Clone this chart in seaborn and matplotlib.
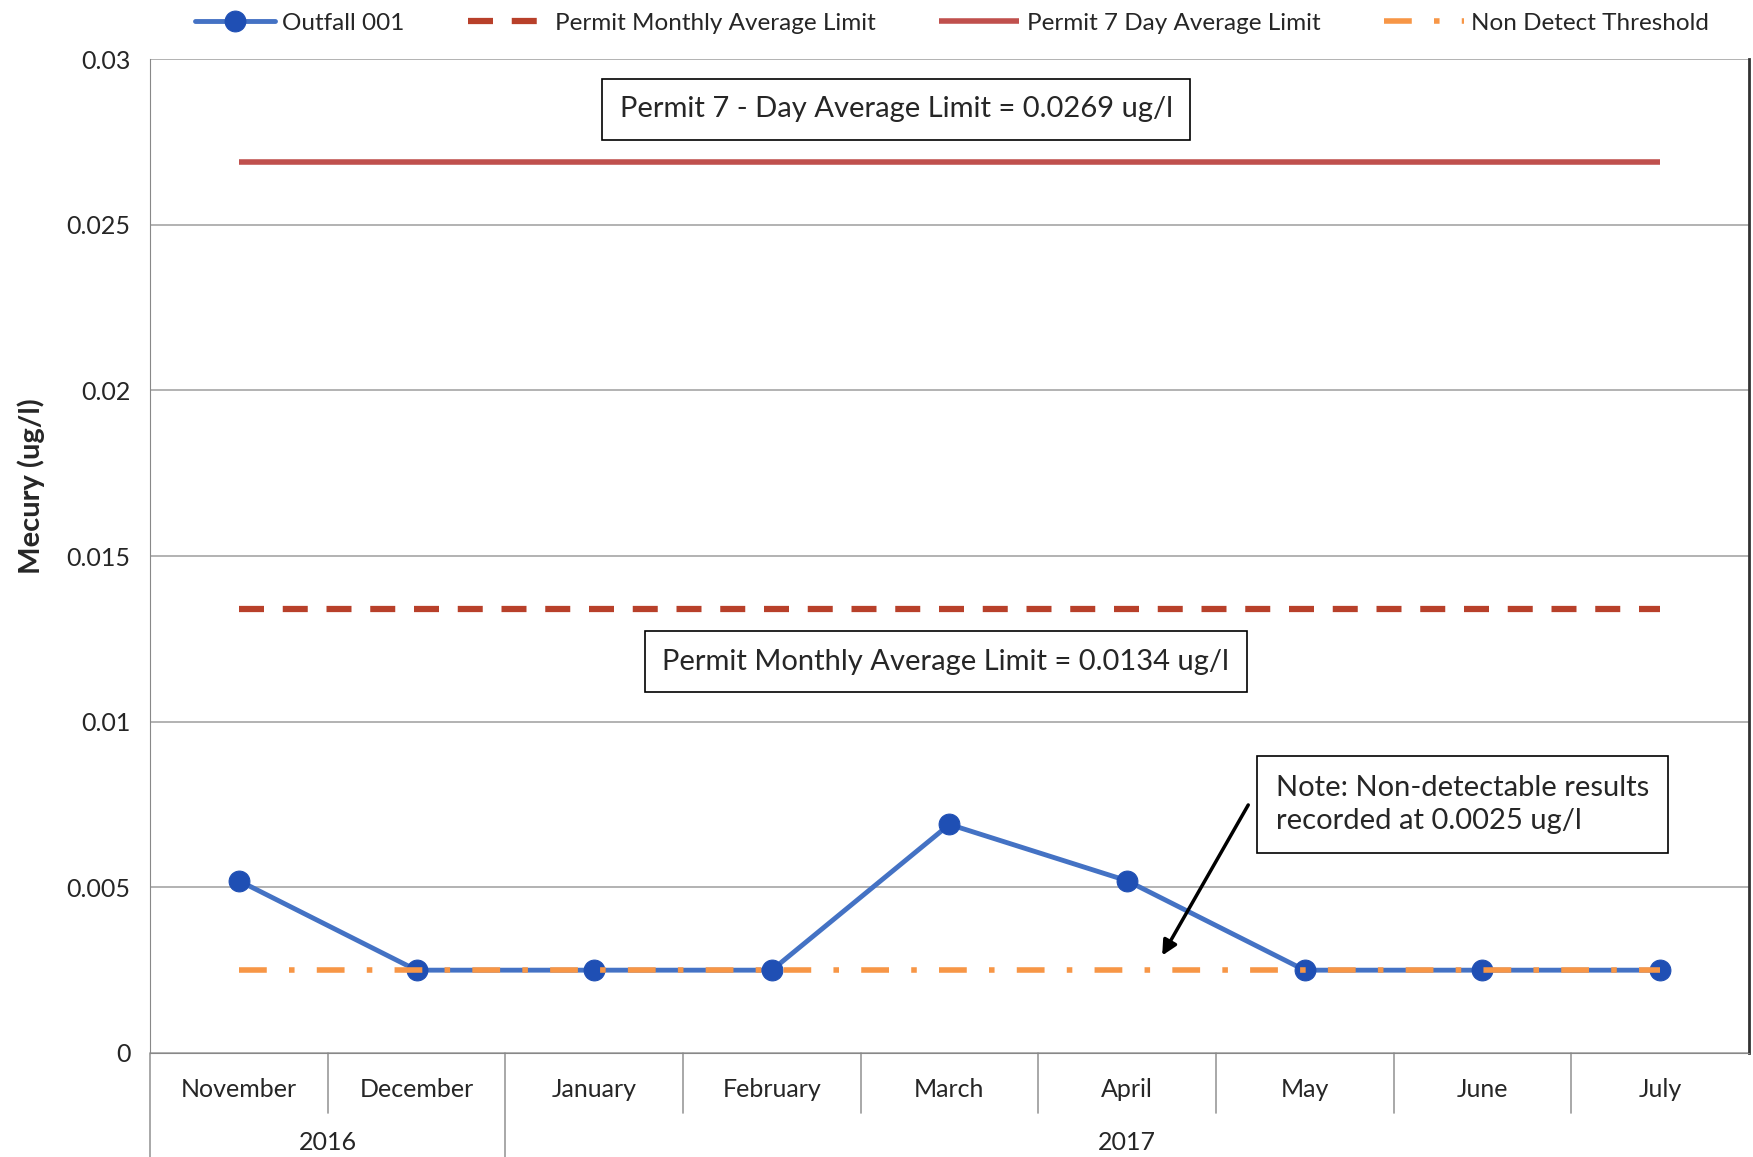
import seaborn as sns
import pandas as pd
import matplotlib.pyplot as plt
import numpy as np

meses = ["November", "December", "January", "February", "March", "April", "May", "June", "July"]
anos = ["2016", "2016", "2017", "2017", "2017", "2017", "2017", "2017", "2017"]
outfall = [0.0052, 0.0025, 0.0025, 0.0025, 0.0069, 0.0052, 0.0025, 0.0025, 0.0025]
limite_mensal = 0.0134
limite_7dias = 0.0269
limite_nd = 0.0025

sns.set_style("white")
plt.rcParams['font.family'] = ['Lato', 'DejaVu Sans']

dados = pd.DataFrame({"pos": np.arange(len(meses)), "mes": meses, "valor": outfall})

fig = plt.figure(figsize=(17.53, 11.57), dpi=100)
ax = fig.add_axes([0.0856, 0.0899, 0.912, 0.859])

# limites
ax.hlines(limite_7dias, 0, len(meses) - 1, color="#c0504d", lw=4, label="Permit 7 Day Average Limit", zorder=2)
ax.hlines(limite_mensal, 0, len(meses) - 1, color="#b8402a", lw=4.5, linestyles=(0, (4, 3)),
          label="Permit Monthly Average Limit", zorder=2)
sns.lineplot(data=dados, x="pos", y="valor", color="#4472c4", lw=3.5, marker="o", markersize=15,
             markerfacecolor="#1f4fb4", markeredgecolor="#1f4fb4", label="Outfall 001", ax=ax, zorder=3,
             legend=False)
ax.hlines(limite_nd, 0, len(meses) - 1, color="#f79646", lw=4, linestyles=(0, (5, 4, 1, 4)),
          label="Non Detect Threshold", zorder=4)
if ax.get_legend() is not None:
    ax.get_legend().remove()

ax.set_xlim(-0.5, len(meses) - 0.5)
ax.set_ylim(0, 0.03)
ax.set_yticks(np.arange(0, 0.0301, 0.005))
ax.set_yticklabels(["0", "0.005", "0.01", "0.015", "0.02", "0.025", "0.03"], fontsize=18)
ax.tick_params(axis="y", length=8, color="#888888", pad=6)
ax.grid(axis="y", color="#a6a6a6", lw=1.2)
ax.set_xticks([])
ax.set_xlabel("")
ax.set_ylabel("Mecury (ug/l)", fontsize=21, fontweight="bold")
ax.yaxis.set_label_coords(-0.066, 0.57)
ax.spines["top"].set_visible(False)
ax.spines["left"].set_color("#888888")
ax.spines["bottom"].set_color("#888888")
ax.spines["right"].set_color("#333333")
ax.spines["right"].set_linewidth(2)

# eixo de categorias em dois niveis
trans = ax.get_xaxis_transform()
for i, m in enumerate(meses):
    ax.text(i, -0.037, m, transform=trans, ha="center", va="center", fontsize=18)
for i in range(len(meses)):
    fim = -0.12 if (i == 0 or i == 2) else -0.06
    ax.plot([i - 0.5, i - 0.5], [0, fim], transform=trans, color="#999999", lw=1.2, clip_on=False)
for ano in ["2016", "2017"]:
    idx = [i for i, a in enumerate(anos) if a == ano]
    ax.text(np.mean(idx), -0.09, ano, transform=trans, ha="center", va="center", fontsize=18)

# caixas de texto
caixa = dict(boxstyle="square,pad=0.6", fc="white", ec="black", lw=1.2)
ax.text(3.70, 0.02848, "Permit 7 - Day Average Limit = 0.0269 ug/l", ha="center", va="center",
        fontsize=21, bbox=caixa)
ax.text(3.98, 0.01181, "Permit Monthly Average Limit = 0.0134 ug/l", ha="center", va="center",
        fontsize=21, bbox=caixa)
ax.text(6.89, 0.0075, "Note: Non-detectable results\nrecorded at 0.0025 ug/l", ha="center", va="center",
        multialignment="left", fontsize=21, linespacing=1.35,
        bbox=dict(boxstyle="square,pad=0.65", fc="white", ec="black", lw=1.2))
ax.annotate("", xy=(5.19, 0.00287), xytext=(5.69, 0.00756),
            arrowprops=dict(arrowstyle="-|>", color="black", lw=2.5, mutation_scale=22))

handles, labels = ax.get_legend_handles_labels()
ordem = ["Outfall 001", "Permit Monthly Average Limit", "Permit 7 Day Average Limit", "Non Detect Threshold"]
h = [handles[labels.index(o)] for o in ordem]
fig.legend(h, ordem, loc="upper center", bbox_to_anchor=(0.543, 1.008), ncol=4, frameon=False,
           fontsize=17.5, handlelength=3.3, columnspacing=2.6, handletextpad=0.3)

plt.savefig("out.png", dpi=100)
